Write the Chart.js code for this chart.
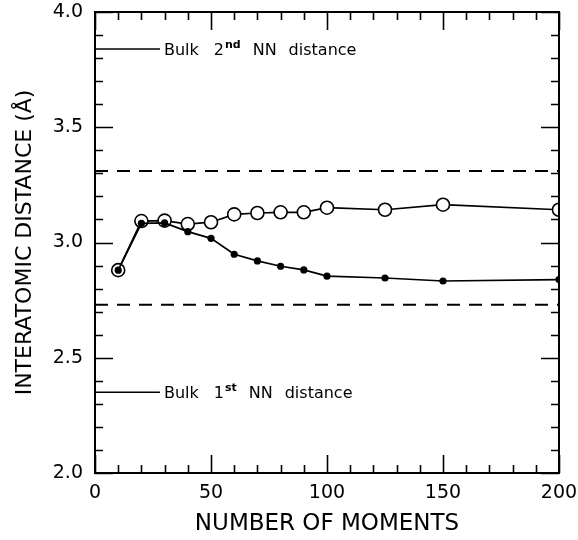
<!DOCTYPE html>
<html>
<head>
<meta charset="utf-8">
<script src="https://cdn.jsdelivr.net/npm/chart.js@4/dist/chart.umd.min.js"></script>
<style>
  html, body { margin: 0; padding: 0; background: #fff; }
  #c { display: block; }
</style>
</head>
<body>
<canvas id="c" width="578" height="540"></canvas>
<script>
// ---- data ----
const moments     = [10, 20, 30, 40, 50, 60, 70, 80, 90, 100, 125, 150, 200];
const openDist    = [2.88, 3.093, 3.095, 3.080, 3.088, 3.122, 3.128, 3.131, 3.131, 3.151, 3.142, 3.164, 3.142];
const filledDist  = [2.88, 3.083, 3.085, 3.047, 3.018, 2.949, 2.920, 2.897, 2.881, 2.854, 2.846, 2.833, 2.839];
const dashedLevels = [3.31, 2.73];
const bulkLevels   = [3.84, 2.35];
const bulkLineX    = [0, 28];
const bulkLabels   = [["Bulk", "2", "nd", "NN", "distance"], ["Bulk", "1", "st", "NN", "distance"]];
const xTicks = [0, 50, 100, 150, 200];
const yTicks = [2.0, 2.5, 3.0, 3.5, 4.0];
const xTitle = "NUMBER OF MOMENTS";
const yTitle = "INTERATOMIC DISTANCE (Å)";

const FONT = "'DejaVu Sans', sans-serif";

function pts(xs, ys) { return xs.map((x, i) => ({x: x, y: ys[i]})); }

const datasets = [
  { // filled dots (drawn on top)
    data: pts(moments, filledDist),
    borderColor: '#000', backgroundColor: '#000', borderWidth: 1.7,
    pointRadius: 3.6, pointBorderWidth: 0, pointBackgroundColor: '#000',
    tension: 0
  },
  { // open circles
    data: pts(moments, openDist),
    borderColor: '#000', backgroundColor: '#fff', borderWidth: 1.7,
    pointRadius: 6.5, pointBorderWidth: 1.6, pointBackgroundColor: '#fff', pointBorderColor: '#000',
    tension: 0
  }
];
dashedLevels.forEach(v => datasets.push({
  data: [{x: xTicks[0], y: v}, {x: xTicks[xTicks.length - 1], y: v}],
  borderColor: '#000', borderWidth: 2, borderDash: [13, 9], pointRadius: 0
}));
bulkLevels.forEach(v => datasets.push({
  data: [{x: bulkLineX[0], y: v}, {x: bulkLineX[1], y: v}],
  borderColor: '#000', borderWidth: 1.5, pointRadius: 0
}));

const framePlugin = {
  id: 'frame',
  afterDraw(chart) {
    const ctx = chart.ctx;
    const xs = chart.scales.x, ys = chart.scales.y;
    const L = xs.left, R = xs.right, T = ys.top, B = ys.bottom;
    ctx.save();
    ctx.strokeStyle = '#000';
    ctx.lineWidth = 2;
    ctx.strokeRect(L, T, R - L, B - T);
    ctx.lineWidth = 1.6;
    ctx.beginPath();
    for (let v = 0; v <= 200; v += 10) {
      const px = Math.round(xs.getPixelForValue(v)) + 0.5;
      const len = (v % 50 === 0) ? 18 : 8;
      ctx.moveTo(px, B); ctx.lineTo(px, B - len);
      ctx.moveTo(px, T); ctx.lineTo(px, T + len);
    }
    for (let k = 20; k <= 40; k++) {
      const v = k / 10;
      const py = Math.round(ys.getPixelForValue(v)) + 0.5;
      const len = (k % 5 === 0) ? 18 : 8;
      ctx.moveTo(L, py); ctx.lineTo(L + len, py);
      ctx.moveTo(R, py); ctx.lineTo(R - len, py);
    }
    ctx.stroke();

    // bulk labels
    ctx.fillStyle = '#000';
    ctx.textBaseline = 'alphabetic';
    bulkLevels.forEach((lvl, i) => {
      const parts = bulkLabels[i];
      let x = xs.getPixelForValue(bulkLineX[1]) + 4;
      const y = ys.getPixelForValue(lvl) + 6;
      ctx.font = "16px " + FONT;
      ctx.fillText(parts[0], x, y); x += ctx.measureText(parts[0]).width + 15;
      ctx.fillText(parts[1], x, y); x += ctx.measureText(parts[1]).width + 1;
      ctx.font = "bold 11px " + FONT;
      ctx.fillText(parts[2], x, y - 7); x += ctx.measureText(parts[2]).width + 12;
      ctx.font = "16px " + FONT;
      ctx.fillText(parts[3], x, y); x += ctx.measureText(parts[3]).width + 12;
      ctx.fillText(parts[4], x, y);
    });
    ctx.restore();
  }
};

function noPad(s) { s.paddingTop = 0; s.paddingBottom = 0; s.paddingLeft = 0; s.paddingRight = 0; }

new Chart(document.getElementById('c'), {
  type: 'line',
  data: { datasets: datasets },
  options: {
    responsive: false,
    animation: false,
    devicePixelRatio: 1,
    layout: { padding: { top: 12, right: 19, left: 0, bottom: 0 } },
    plugins: { legend: { display: false }, tooltip: { enabled: false } },
    scales: {
      x: {
        type: 'linear', min: 0, max: 200,
        afterBuildTicks: s => { s.ticks = xTicks.map(v => ({value: v})); },
        afterFit: s => { s.height = 67; noPad(s); },
        grid: { display: false, drawTicks: false },
        border: { display: false },
        ticks: { color: '#000', font: { family: FONT, size: 19 }, padding: 9, maxRotation: 0,
                 callback: v => String(v) },
        title: { display: true, text: xTitle, color: '#000', font: { family: FONT, size: 23 },
                 padding: { top: 0, bottom: 2 } }
      },
      y: {
        type: 'linear', min: 2, max: 4,
        afterBuildTicks: s => { s.ticks = yTicks.map(v => ({value: v})); },
        afterFit: s => { s.width = 95; noPad(s); },
        grid: { display: false, drawTicks: false },
        border: { display: false },
        ticks: { color: '#000', font: { family: FONT, size: 19 }, padding: 12,
                 callback: v => Number(v).toFixed(1) },
        title: { display: true, text: yTitle, color: '#000', font: { family: FONT, size: 22 },
                 padding: { top: 12, bottom: 0 } }
      }
    }
  },
  plugins: [framePlugin]
});
</script>
</body>
</html>
